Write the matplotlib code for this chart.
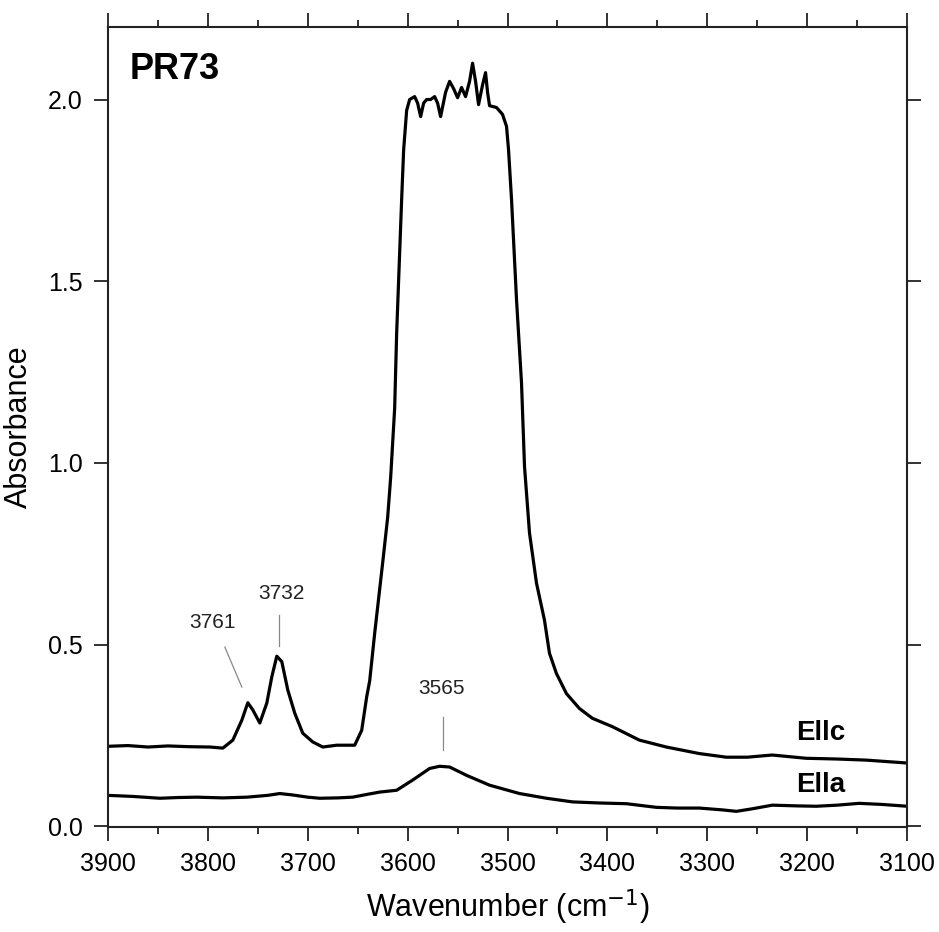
import matplotlib.pyplot as plt
from matplotlib.ticker import MultipleLocator

plt.rcParams["font.family"] = ["Liberation Sans", "DejaVu Sans"]

# E||c spectrum (wavenumber, absorbance)
wn_c = [3900, 3880, 3860, 3840, 3820, 3798, 3785, 3775, 3766, 3760, 3755, 3748, 3741, 3736,
        3731, 3726, 3720, 3713, 3705, 3695, 3685, 3671, 3661, 3653, 3646, 3641, 3638, 3633,
        3625, 3620, 3617, 3613, 3611, 3606, 3604, 3601, 3598, 3593, 3590, 3587, 3584, 3581,
        3577, 3573, 3570, 3567, 3562, 3558, 3554, 3550, 3546, 3542, 3538, 3535, 3532, 3529,
        3525, 3522, 3520, 3518, 3511, 3505, 3501, 3499, 3496, 3491, 3486, 3483, 3478, 3471,
        3463, 3458, 3451, 3441, 3428, 3415, 3395, 3368, 3341, 3308, 3281, 3260, 3235, 3201,
        3170, 3141, 3100]
abs_c = [0.220, 0.222, 0.218, 0.221, 0.219, 0.218, 0.215, 0.237, 0.292, 0.340, 0.32, 0.284,
         0.339, 0.411, 0.468, 0.453, 0.375, 0.311, 0.256, 0.232, 0.218, 0.223, 0.223, 0.223,
         0.264, 0.356, 0.40, 0.531, 0.725, 0.85, 0.96, 1.15, 1.357, 1.725, 1.862, 1.97, 2.0,
         2.008, 1.99, 1.953, 1.99, 2.0, 2.0, 2.008, 1.99, 1.953, 2.02, 2.05, 2.03, 2.005,
         2.033, 2.008, 2.05, 2.10, 2.05, 1.986, 2.04, 2.074, 2.02, 1.983, 1.978, 1.959, 1.926,
         1.862, 1.725, 1.449, 1.22, 0.99, 0.807, 0.669, 0.567, 0.476, 0.42, 0.365, 0.324,
         0.297, 0.274, 0.237, 0.218, 0.20, 0.19, 0.19, 0.196, 0.187, 0.185, 0.182, 0.174]

# E||a spectrum
wn_a = [3900, 3875, 3848, 3830, 3811, 3785, 3761, 3740, 3728, 3715, 3700, 3688, 3670, 3655,
        3640, 3628, 3611, 3595, 3578, 3568, 3558, 3541, 3518, 3488, 3461, 3435, 3408, 3381,
        3351, 3330, 3308, 3285, 3271, 3255, 3235, 3210, 3191, 3170, 3148, 3125, 3100]
abs_a = [0.085, 0.082, 0.077, 0.079, 0.080, 0.078, 0.080, 0.085, 0.090, 0.086, 0.080, 0.077,
         0.078, 0.080, 0.088, 0.094, 0.099, 0.127, 0.159, 0.165, 0.163, 0.14, 0.113, 0.09,
         0.077, 0.067, 0.064, 0.062, 0.052, 0.050, 0.050, 0.045, 0.041, 0.048, 0.058, 0.056,
         0.055, 0.058, 0.063, 0.060, 0.055]

# peak labels: text, text position, pointer line start/end
peak_labels = ["3761", "3732", "3565"]
peak_text_xy = [(3795, 0.56), (3726, 0.64), (3566, 0.38)]
peak_lines = [((3783, 3766), (0.493, 0.383)),
              ((3729, 3729), (0.581, 0.496)),
              ((3565, 3565), (0.30, 0.209))]


def main():
    fig = plt.figure(figsize=(9.39, 9.32), dpi=100)
    ax = fig.add_axes([0.115, 0.1127, 0.851, 0.8585])

    ax.plot(wn_c, abs_c, color="black", lw=2.3, solid_joinstyle="round")
    ax.plot(wn_a, abs_a, color="black", lw=2.3, solid_joinstyle="round")

    for lab, (tx, ty), (lx, ly) in zip(peak_labels, peak_text_xy, peak_lines):
        ax.text(tx, ty, lab, fontsize=15, ha="center", va="center", color="#222222")
        ax.plot(lx, ly, color="#888888", lw=0.9)

    ax.text(3211, 0.256, "Ellc", fontsize=20, fontweight="bold", va="center")
    ax.text(3211, 0.113, "Ella", fontsize=20, fontweight="bold", va="center")
    ax.text(3878, 2.083, "PR73", fontsize=26, fontweight="bold", va="center")

    ax.set_xlim(3900, 3100)
    ax.set_ylim(-0.002, 2.2)
    ax.xaxis.set_major_locator(MultipleLocator(100))
    ax.xaxis.set_minor_locator(MultipleLocator(50))
    ax.yaxis.set_major_locator(MultipleLocator(0.5))
    ax.yaxis.set_major_formatter(plt.FormatStrFormatter("%.1f"))

    ax.tick_params(which="both", direction="out", top=True, right=True, labelsize=18,
                   width=1.3, color="#222222")
    ax.tick_params(which="major", length=10, pad=8)
    ax.tick_params(which="minor", length=5)
    for sp in ax.spines.values():
        sp.set_linewidth(1.5)
        sp.set_color("#222222")

    ax.set_xlabel("Wavenumber (cm$^{-1}$)", fontsize=22, labelpad=8)
    ax.set_ylabel("Absorbance", fontsize=22, labelpad=10)

    fig.savefig("out.png", dpi=100)


if __name__ == "__main__":
    main()
